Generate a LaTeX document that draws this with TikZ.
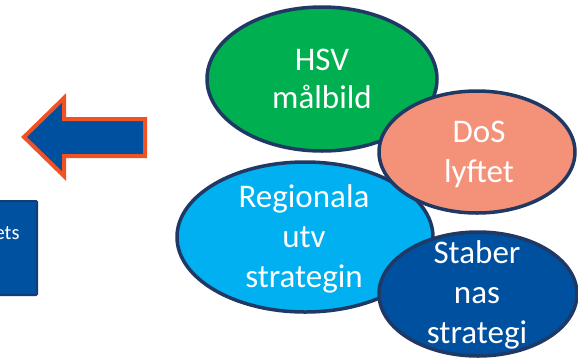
\documentclass[tikz,border=0pt]{standalone}
\usepackage{fontspec}
\setmainfont{Carlito}
\usetikzlibrary{shapes.geometric}
\definecolor{navy}{RGB}{31,56,100}
\definecolor{hsvgreen}{RGB}{0,176,80}
\definecolor{salmon}{RGB}{243,146,120}
\definecolor{lightblue}{RGB}{0,176,240}
\definecolor{darkblue}{RGB}{0,80,160}
\definecolor{boxblue}{RGB}{0,82,160}
\definecolor{boxedge}{RGB}{20,60,120}
\definecolor{arrowedge}{RGB}{240,82,36}
\tikzset{
  blob/.style={ellipse, draw=navy, line width=3.5pt, inner sep=0pt},
  lbl/.style={text=white, align=center, inner sep=0pt, font=\fontsize{33}{40}\selectfont},
  smalllbl/.style={text=white, inner sep=0pt, font=\fontsize{20.5}{24}\selectfont}
}
\begin{document}
\begin{tikzpicture}[x=1pt,y=-1pt]
\useasboundingbox (0,0) rectangle (578,360);
\clip (0,0) rectangle (578,360);
\fill[white] (0,0) rectangle (578,360);
% left box
\draw[fill=boxblue, draw=boxedge, line width=2pt, rounded corners=1pt] (-10,201) rectangle (37,295);
\node[smalllbl, anchor=base east] (ets) at (19.8,239.5) {ets};
% arrow
\draw[fill=darkblue, draw=arrowedge, line width=4pt, line join=miter]
  (24,137) -- (64,98) -- (64,119) -- (145,119) -- (145,156) -- (64,156) -- (64,176) -- cycle;
% ellipses
\node[blob, fill=hsvgreen, minimum width=230pt, minimum height=144pt] (hsv) at (322,79) {};
\node[blob, fill=lightblue, minimum width=256pt, minimum height=150pt] (reg) at (305,237) {};
\node[blob, fill=salmon, minimum width=196pt, minimum height=122pt] (dos) at (477,152) {};
\node[blob, fill=darkblue, minimum width=198pt, minimum height=124pt] (stab) at (478,294) {};
% labels
\node[lbl, font=\fontsize{33}{38}\selectfont] (hsvt) at (322,78.7) {HSV\\målbild};
\node[lbl] (regt) at (304,239) {Regionala\\utv\\strategin};
\node[lbl] (dost) at (479,154.7) {DoS\\lyftet};
\node[lbl] (stabt) at (477,294.7) {Staber\\nas\\strategi};
\end{tikzpicture}
\end{document}
